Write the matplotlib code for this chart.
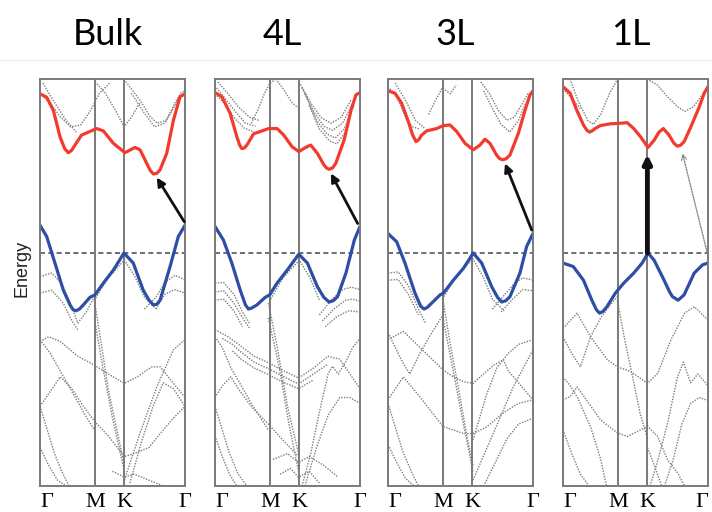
import matplotlib
matplotlib.use('Agg')
import matplotlib.pyplot as plt
from matplotlib.lines import Line2D

# ---- data (energy in eV, VBM at K = 0) ----
panel_names = ['Bulk', '4L', '3L', '1L']
sym_pos = [0.0, 0.378, 0.582, 1.0]
sym_labels = ['Γ', 'M', 'K', 'Γ']
e_min, e_max = -3.95, 2.95

# highlighted conduction band (red) and valence band (blue)
bulk_cb_k = [0, .046, .092, .138, .170, .195, .218, .241, .287, .391, .437, .506, .586, .655, .690, .736, .760, .782, .805, .828, .874, .920, .966, 1]
bulk_cb_e = [2.70, 2.64, 2.42, 1.97, 1.77, 1.70, 1.74, 1.83, 2.00, 2.11, 2.07, 1.86, 1.70, 1.79, 1.75, 1.52, 1.40, 1.34, 1.35, 1.41, 1.69, 2.25, 2.65, 2.70]
bulk_vb_k = [0, .046, .103, .161, .207, .228, .248, .272, .299, .345, .379, .437, .506, .579, .643, .712, .752, .782, .805, .828, .897, .954, 1]
bulk_vb_e = [0.47, 0.28, -0.17, -0.63, -0.88, -0.96, -0.98, -0.95, -0.88, -0.75, -0.71, -0.51, -0.29, 0.0, -0.17, -0.63, -0.80, -0.88, -0.87, -0.80, -0.23, 0.28, 0.47]

l4_cb_k = [0, .047, .104, .151, .170, .185, .202, .220, .266, .370, .428, .474, .532, .578, .625, .660, .706, .752, .770, .787, .810, .833, .891, .938, .972, 1]
l4_cb_e = [2.72, 2.65, 2.37, 1.97, 1.83, 1.77, 1.78, 1.83, 2.02, 2.11, 2.11, 2.00, 1.80, 1.72, 1.79, 1.83, 1.69, 1.49, 1.44, 1.42, 1.44, 1.52, 1.92, 2.42, 2.68, 2.72]
l4_vb_k = [0, .058, .116, .174, .210, .231, .255, .289, .347, .377, .428, .498, .578, .637, .706, .750, .787, .815, .845, .903, .961, 1]
l4_vb_e = [0.45, 0.22, -0.17, -0.63, -0.88, -0.95, -0.93, -0.88, -0.75, -0.71, -0.51, -0.29, -0.02, -0.17, -0.57, -0.75, -0.83, -0.81, -0.74, -0.34, 0.22, 0.45]

l3_cb_k = [0, .048, .094, .140, .170, .193, .212, .232, .267, .336, .381, .428, .474, .531, .588, .634, .669, .703, .749, .770, .791, .815, .841, .899, .945, .979, 1]
l3_cb_e = [2.75, 2.71, 2.54, 2.23, 2.00, 1.89, 1.92, 2.00, 2.07, 2.11, 2.16, 2.17, 2.06, 1.86, 1.75, 1.83, 1.93, 1.86, 1.66, 1.60, 1.58, 1.60, 1.66, 2.03, 2.42, 2.68, 2.75]
l3_vb_k = [0, .060, .117, .186, .225, .248, .272, .301, .359, .382, .451, .520, .588, .646, .715, .755, .784, .812, .841, .910, .956, 1]
l3_vb_e = [0.33, 0.19, -0.17, -0.68, -0.90, -0.95, -0.92, -0.85, -0.71, -0.68, -0.46, -0.26, 0.0, -0.17, -0.57, -0.75, -0.83, -0.81, -0.74, -0.34, 0.11, 0.33]

l1_cb_k = [0, .049, .095, .141, .165, .183, .200, .222, .257, .326, .396, .442, .488, .535, .586, .628, .662, .692, .731, .765, .790, .812, .836, .882, .940, .974, 1]
l1_cb_e = [2.82, 2.71, 2.42, 2.17, 2.08, 2.05, 2.07, 2.11, 2.16, 2.19, 2.20, 2.21, 2.11, 1.97, 1.79, 1.91, 2.05, 2.11, 2.00, 1.86, 1.81, 1.83, 1.89, 2.14, 2.48, 2.71, 2.82]
l1_vb_k = [0, .071, .141, .199, .230, .252, .276, .303, .361, .419, .488, .546, .586, .628, .697, .735, .755, .794, .835, .905, .963, 1]
l1_vb_e = [-0.17, -0.23, -0.46, -0.80, -0.96, -1.02, -0.99, -0.91, -0.68, -0.51, -0.34, -0.17, 0.0, -0.12, -0.46, -0.66, -0.74, -0.80, -0.71, -0.34, -0.20, -0.17]

# transition arrows: (k_from, e_from, k_to, e_to)
bulk_gap = (0.995, 0.53, 0.805, 1.28)
l4_gap = (0.984, 0.50, 0.799, 1.35)
l3_gap = (0.991, 0.39, 0.807, 1.52)
l1_direct = (0.582, 0.0, 0.582, 1.67)
l1_indirect = (0.993, 0.02, 0.824, 1.69)

# other bands (grey dotted), each (k list, e list)
bulk_grey = [
    ([0, .07, .14, .21, .28, .35, .41, .48], [2.71, 2.54, 2.31, 2.14, 2.17, 2.42, 2.71, 2.88]),
    ([.02, .09, .18, .25], [2.88, 2.59, 2.25, 2.05]),
    ([.38, .45, .52, .58, .63, .69], [2.90, 2.71, 2.42, 2.14, 2.30, 2.55]),
    ([.58, .69, .76, .81, .87, .93, .97, 1.0], [2.94, 2.59, 2.31, 2.20, 2.25, 2.54, 2.71, 2.75]),
    ([.63, .72, .79, .86, .92, .96], [2.71, 2.37, 2.14, 2.20, 2.45, 2.65]),
    ([0, .08, .15, .22, .26, .32, .375], [-0.40, -0.34, -0.52, -0.91, -1.19, -1.00, -0.74]),
    ([0, .08, .16, .22, .26], [-0.68, -0.63, -0.85, -1.15, -1.30]),
    ([.375, .47, .582, .655, .72, .80], [-0.80, -0.42, -0.12, -0.40, -0.75, -0.95]),
    ([.72, .80, .86, .93, 1.0], [-0.95, -0.75, -0.50, -0.38, -0.45]),
    ([.80, .86, .93, 1.0], [-0.95, -0.70, -0.62, -0.68]),
    ([0, .06, .14, .26, .375, .47, .582, .67, .77, .83, .90, 1.0], [-1.50, -1.42, -1.50, -1.75, -1.90, -2.05, -2.21, -2.10, -1.93, -1.93, -2.15, -2.45]),
    ([0, .07, .14, .22, .30, .375], [-1.47, -1.70, -2.00, -2.35, -2.70, -3.00]),
    ([0, .07, .14, .22, .30, .375, .47, .582, .65, .75, .85, .92, 1.0], [-2.60, -2.35, -2.10, -2.30, -2.60, -2.85, -3.10, -3.45, -3.40, -3.30, -3.00, -2.80, -2.60]),
    ([.375, .42, .47, .53, .582], [-0.80, -1.50, -2.30, -3.00, -3.60]),
    ([.375, .43, .50, .582], [-1.10, -1.90, -2.80, -3.70]),
    ([.582, .69, .805, .92, 1.0], [-3.85, -3.05, -2.27, -1.64, -1.47]),
    ([.62, .70, .78, .85, .92, 1.0], [-3.90, -3.20, -2.60, -2.20, -2.30, -2.60]),
    ([0, .05, .10, .15, .20], [-2.60, -3.00, -3.40, -3.70, -3.95]),
    ([0, .06, .12, .18], [-3.30, -3.60, -3.85, -3.95]),
    ([.50, .582, .65, .75, .85], [-3.70, -3.80, -3.75, -3.85, -3.95]),
]

l4_grey = [
    ([0, .06, .13, .20, .27], [2.70, 2.55, 2.30, 2.12, 2.05]),
    ([.01, .07, .14, .21, .28], [2.80, 2.62, 2.40, 2.20, 2.15]),
    ([.02, .09, .16, .24, .30], [2.90, 2.70, 2.48, 2.30, 2.25]),
    ([.25, .30, .34, .38, .42], [2.20, 2.45, 2.70, 2.88, 2.95]),
    ([.42, .48, .53, .58], [2.95, 2.75, 2.55, 2.45]),
    ([.58, .66, .73, .80, .87, .94], [2.90, 2.55, 2.30, 2.20, 2.30, 2.60]),
    ([.60, .68, .75, .81, .88, .95], [2.80, 2.40, 2.15, 2.08, 2.20, 2.55]),
    ([.62, .70, .77, .83, .89, .96], [2.70, 2.25, 2.02, 1.95, 2.10, 2.50]),
    ([.65, .72, .79, .84, .90], [2.50, 2.10, 1.90, 1.85, 2.05]),
    ([0, .06, .13, .19, .24], [-0.51, -0.50, -0.70, -1.00, -1.20]),
    ([0, .06, .13, .19, .24], [-0.66, -0.64, -0.85, -1.10, -1.28]),
    ([0, .06, .13, .19], [-0.80, -0.78, -0.98, -1.25]),
    ([.375, .47, .582, .655, .72], [-0.82, -0.42, -0.12, -0.42, -0.80]),
    ([.72, .80, .88, .94, 1.0], [-1.05, -0.80, -0.62, -0.58, -0.62]),
    ([.74, .82, .90, .95, 1.0], [-1.15, -0.95, -0.80, -0.78, -0.82]),
    ([.76, .84, .92, 1.0], [-1.25, -1.08, -0.98, -1.00]),
    ([0, .09, .18, .27, .368, .46, .576, .68, .78, .86, .93, 1.0], [-1.30, -1.42, -1.58, -1.75, -1.86, -1.98, -2.12, -1.95, -1.75, -1.80, -2.05, -2.30]),
    ([.05, .12, .18, .27, .368, .46, .576, .68, .78], [-1.45, -1.55, -1.68, -1.85, -1.96, -2.08, -2.22, -2.05, -1.88]),
    ([.12, .18, .27, .368, .46, .576, .68], [-1.66, -1.80, -1.95, -2.06, -2.18, -2.30, -2.15]),
    ([0, .05, .11, .17, .25, .368], [-1.42, -1.60, -1.95, -2.20, -2.55, -3.00]),
    ([0, .05, .11, .16, .25, .368, .46, .576], [-2.45, -2.25, -2.10, -2.30, -2.60, -2.90, -3.15, -3.45]),
    ([.368, .43, .50, .576], [-0.85, -1.60, -2.60, -3.40]),
    ([.368, .44, .51, .576], [-1.10, -1.90, -2.90, -3.70]),
    ([.60, .66, .72, .78, .81, .85, .90, .95, 1.0], [-3.95, -3.40, -2.70, -2.05, -1.92, -2.05, -1.85, -1.60, -1.45]),
    ([.62, .70, .78, .86, .93, 1.0], [-3.95, -3.30, -2.75, -2.45, -2.45, -2.55]),
    ([0, .05, .10, .16, .22], [-2.60, -3.00, -3.40, -3.75, -3.95]),
    ([0, .05, .10, .15], [-3.10, -3.45, -3.75, -3.95]),
    ([.40, .50, .576, .65, .75, .85], [-3.50, -3.40, -3.55, -3.45, -3.60, -3.80]),
    ([.45, .52, .576, .65, .72], [-3.75, -3.65, -3.80, -3.70, -3.90]),
]

l3_grey = [
    ([0, .06, .13, .17, .22], [2.82, 2.65, 2.25, 2.14, 2.10]),
    ([.05, .12, .19, .25], [2.88, 2.59, 2.25, 2.12]),
    ([.28, .33, .375, .43, .47], [2.35, 2.60, 2.80, 2.70, 2.85]),
    ([.64, .70, .76, .82, .87, .93, .97], [2.90, 2.70, 2.42, 2.25, 2.30, 2.55, 2.72]),
    ([.66, .72, .78, .84, .90, .95], [2.75, 2.45, 2.18, 2.05, 2.25, 2.55]),
    ([0, .07, .14, .21, .26], [-0.34, -0.32, -0.55, -0.95, -1.20]),
    ([0, .07, .14, .21], [-0.46, -0.45, -0.70, -1.05]),
    ([.375, .47, .586, .655, .72, .80], [-0.78, -0.40, -0.10, -0.40, -0.78, -0.98]),
    ([.72, .80, .87, .93, 1.0], [-0.95, -0.72, -0.52, -0.42, -0.46]),
    ([.78, .86, .93, 1.0], [-1.00, -0.78, -0.62, -0.64]),
    ([0, .106, .22, .379, .45, .52, .586, .66, .73, .795, .83, .90, 1.0], [-1.47, -1.33, -1.60, -1.98, -2.10, -2.18, -2.21, -2.05, -1.90, -1.81, -2.00, -2.20, -2.49]),
    ([0, .10, .15, .22, .29, .379], [-1.35, -1.85, -2.05, -1.70, -1.40, -1.05]),
    ([0, .106, .22, .379, .52, .586, .68, .80, .90, 1.0], [-2.49, -2.10, -2.44, -2.94, -3.06, -3.06, -2.95, -2.70, -2.55, -2.49]),
    ([.379, .43, .49, .54, .586], [-0.80, -1.55, -2.35, -3.05, -3.60]),
    ([.379, .45, .52, .586], [-1.10, -2.00, -2.90, -3.70]),
    ([.586, .726, .864, 1.0], [-3.85, -3.06, -2.27, -1.64]),
    ([.586, .68, .75, .83, .90, 1.0], [-3.17, -2.40, -1.95, -1.70, -1.55, -1.47]),
    ([0, .05, .10, .16, .21], [-2.55, -2.95, -3.35, -3.70, -3.95]),
    ([0, .06, .12, .18], [-3.25, -3.55, -3.82, -3.95]),
    ([.66, .74, .82, .90, 1.0], [-3.95, -3.55, -3.15, -2.90, -2.80]),
]

l1_grey = [
    ([.05, .10, .17, .21, .26, .32, .37], [2.95, 2.60, 2.25, 2.18, 2.35, 2.70, 2.92]),
    ([0, .06, .12], [2.78, 2.62, 2.45]),
    ([.58, .65, .72, .79, .84, .90, .95, 1.0], [2.95, 2.85, 2.65, 2.48, 2.40, 2.48, 2.65, 2.82]),
    ([0, .097, .19, .306, .375, .467, .583, .653, .745, .838, .907, 1.0], [-1.28, -1.02, -1.42, -1.81, -1.93, -2.01, -2.21, -2.04, -1.47, -1.02, -0.91, -1.14]),
    ([0, .06, .12, .19, .26, .32, .375], [-1.42, -1.70, -1.93, -1.42, -1.10, -0.90, -0.74]),
    ([.375, .42, .48, .53, .583], [-0.80, -1.40, -2.10, -2.70, -3.15]),
    ([0, .051, .097, .144, .259, .375, .444, .583, .653, .722, .792, .838], [-2.49, -2.43, -2.27, -2.43, -2.83, -3.05, -3.11, -2.94, -3.11, -3.51, -3.73, -3.95]),
    ([0, .05, .10, .19, .26, .30], [-2.10, -2.25, -2.45, -2.95, -3.50, -3.95]),
    ([0, .06, .12, .18], [-3.00, -3.40, -3.75, -3.95]),
    ([.60, .65, .72, .79, .83, .88, .93, 1.0], [-3.95, -3.55, -2.90, -2.10, -1.85, -2.20, -2.05, -2.25]),
    ([.70, .76, .82, .88, .94, 1.0], [-3.95, -3.50, -2.90, -2.55, -2.45, -2.50]),
    ([.583, .63, .68], [-3.30, -3.60, -3.95]),
]

cb_k = [bulk_cb_k, l4_cb_k, l3_cb_k, l1_cb_k]
cb_e = [bulk_cb_e, l4_cb_e, l3_cb_e, l1_cb_e]
vb_k = [bulk_vb_k, l4_vb_k, l3_vb_k, l1_vb_k]
vb_e = [bulk_vb_e, l4_vb_e, l3_vb_e, l1_vb_e]
grey_bands = [bulk_grey, l4_grey, l3_grey, l1_grey]
gap_arrows = [bulk_gap, l4_gap, l3_gap, l1_direct]

# ---- layout (pixels of the 712x512 picture) ----
W, H = 712, 512
panel_left = [40, 215, 388, 563]
panel_w, panel_top, panel_bottom = 145, 79, 486

fig = plt.figure(figsize=(W / 100, H / 100), dpi=100)
fig.add_artist(Line2D([0, 1], [1 - 60 / H, 1 - 60 / H], color='#f0f0f0', lw=1))

for i, name in enumerate(panel_names):
    ax = fig.add_axes([panel_left[i] / W, 1 - panel_bottom / H,
                       panel_w / W, (panel_bottom - panel_top) / H])
    for k, e in grey_bands[i]:
        ax.plot(k, e, color='#7d7d7d', lw=1.0, ls=(0, (1, 1)))
    ax.axhline(0, color='#555555', lw=1.2, ls=(0, (3, 2)))
    for x in sym_pos[1:3]:
        ax.axvline(x, color='#7a7a7a', lw=1.4)
    ax.plot(cb_k[i], cb_e[i], color='#f23b2e', lw=2.3,
            solid_joinstyle='round', solid_capstyle='round')
    ax.plot(vb_k[i], vb_e[i], color='#2e4ea6', lw=2.3,
            solid_joinstyle='round', solid_capstyle='round')

    k0, e0, k1, e1 = gap_arrows[i]
    lw = 3.5 if name == '1L' else 2.0
    ax.annotate('', xy=(k1, e1), xytext=(k0, e0),
                arrowprops=dict(arrowstyle='-|>', color='#111111', lw=lw,
                                mutation_scale=12, shrinkA=0, shrinkB=0))
    if name == '1L':
        k0, e0, k1, e1 = l1_indirect
        ax.annotate('', xy=(k1, e1), xytext=(k0, e0),
                    arrowprops=dict(arrowstyle='->', color='#888888', lw=1.0,
                                    ls=(0, (1, 1)), mutation_scale=9,
                                    shrinkA=0, shrinkB=0))

    ax.set_xlim(0, 1)
    ax.set_ylim(e_min, e_max)
    ax.set_yticks([])
    ax.set_xticks(sym_pos)
    ax.set_xticklabels(sym_labels, family='Liberation Serif', fontsize=16)
    ax.tick_params(axis='x', length=0, pad=5)
    labels = ax.get_xticklabels()
    labels[0].set_horizontalalignment('left')
    if name == '1L':
        labels[-1].set_horizontalalignment('right')
    for s in ax.spines.values():
        s.set_color('#7a7a7a')
        s.set_linewidth(1.4)

    cx = (panel_left[i] + panel_w / 2 - 5) / W
    fig.text(cx, 1 - 45 / H, name, ha='center', va='baseline',
             fontsize=26, family='Lato')

fig.text(22 / W, 1 - 268 / H, 'Energy', rotation=90, ha='center', va='center',
         fontsize=13, family='Liberation Sans', color='#222222')

fig.savefig('out.png', dpi=100)
